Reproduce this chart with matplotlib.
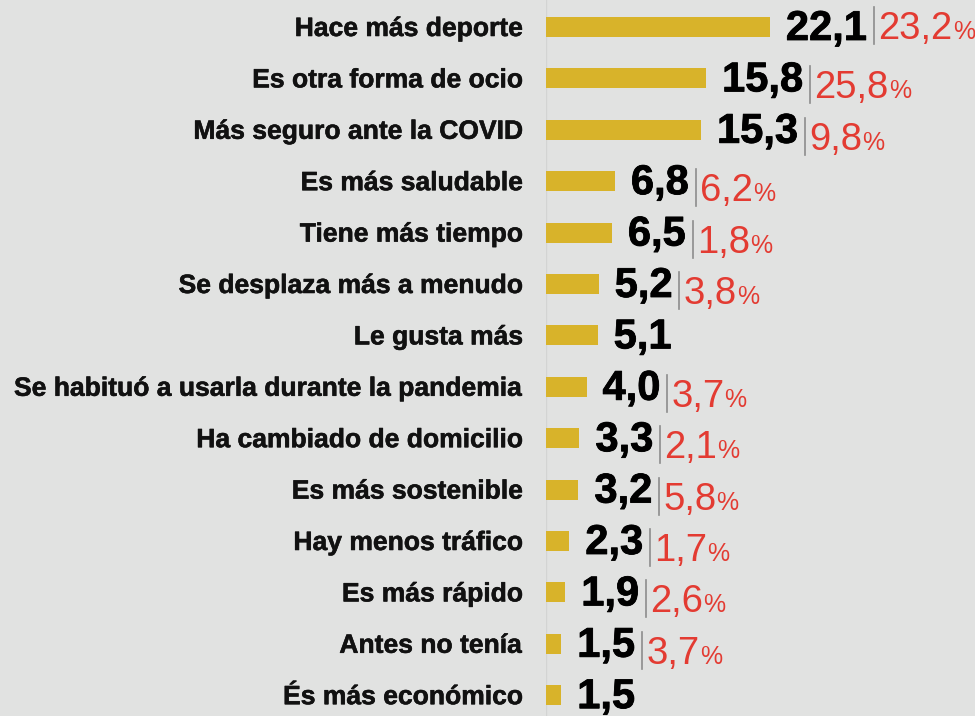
import matplotlib
matplotlib.use("Agg")
import matplotlib.pyplot as plt
from matplotlib.transforms import IdentityTransform
from matplotlib.lines import Line2D
from matplotlib.textpath import TextPath
from matplotlib import font_manager as fm
from matplotlib import patheffects as pe

labels = [
    "Hace más deporte",
    "Es otra forma de ocio",
    "Más seguro ante la COVID",
    "Es más saludable",
    "Tiene más tiempo",
    "Se desplaza más a menudo",
    "Le gusta más",
    "Se habituó a usarla durante la pandemia",
    "Ha cambiado de domicilio",
    "Es más sostenible",
    "Hay menos tráfico",
    "Es más rápido",
    "Antes no tenía",
    "És más económico",
]
values = [22.1, 15.8, 15.3, 6.8, 6.5, 5.2, 5.1, 4.0, 3.3, 3.2, 2.3, 1.9, 1.5, 1.5]
previous = [23.2, 25.8, 9.8, 6.2, 1.8, 3.8, None, 3.7, 2.1, 5.8, 1.7, 2.6, 3.7, None]

BG = "#e1e2e1"
GOLD = "#d8b32a"
RED = "#e33b32"
SEP = "#8c8c8c"


def font_file(name, weight):
    for f in fm.fontManager.ttflist:
        if f.name == name and f.weight == weight and f.style == "normal":
            return f.fname
    return None


bold_file = font_file("Liberation Sans", 700)
reg_file = font_file("Liberation Sans", 400)


def fp(bold, size):
    fn = bold_file if bold else reg_file
    if fn:
        return fm.FontProperties(fname=fn, size=size)
    return fm.FontProperties(family="DejaVu Sans", weight="bold" if bold else "normal", size=size)


def ink_x(s, prop):
    """horizontal ink extent (px, relative to pen origin) of a string"""
    size_px = prop.get_size_in_points() * 100 / 72
    tp = TextPath((0, 0), s, size=size_px, prop=prop)
    v = tp.vertices
    return v[:, 0].min(), v[:, 0].max()


W, H = 975, 716
fig = plt.figure(figsize=(W / 100, H / 100), dpi=100, facecolor=BG)
x0 = 546
ax = fig.add_axes([x0 / W, 0, 1 - x0 / W, 1])
ax.set_facecolor(BG)
px_per_unit = 10.13
row_h = 51.4
first_c = 27
n = len(values)
ax.set_xlim(0, (W - x0) / px_per_unit)
ax.set_ylim(n - 1 + (H - (first_c + row_h * (n - 1))) / row_h, -first_c / row_h)
for s in ax.spines.values():
    s.set_visible(False)
ax.set_xticks([])
ax.set_yticks([])
ax.axvline(0, color="#d3d4d3", lw=1.0, zorder=0)

ys = list(range(n))
ax.barh(ys, values, height=20 / row_h, color=GOLD, zorder=2)

fig.canvas.draw()
ident = IdentityTransform()

# fit label size so the longest label spans ~508 px
probe_prop = fp(True, 17)
a, b = ink_x(labels[7], probe_prop)
label_size = 17 * 508 / (b - a)

lab_prop = fp(True, label_size)
val_prop = fp(True, 30)
red_prop = fp(False, 27.5)
pct_prop = fp(False, 18)
fx_lab = [pe.withStroke(linewidth=0.4, foreground="#111111")]
fx_val = [pe.withStroke(linewidth=0.6, foreground="#000000")]


def fmt(v):
    return f"{v:.1f}".replace(".", ",")


for i, (lab, v, p) in enumerate(zip(labels, values, previous)):
    bx, by = ax.transData.transform((v, i))
    lx, _ = ax.transData.transform((0, i))
    la, lb = ink_x(lab, lab_prop)
    fig.text(lx - 24 - lb, by - 9, lab, transform=ident, ha="left", va="baseline",
             fontproperties=lab_prop, color="#111111", path_effects=fx_lab)
    s = fmt(v)
    va_, vb_ = ink_x(s, val_prop)
    pen = bx + 16 - va_
    fig.text(pen, by - 13, s, transform=ident, ha="left", va="baseline",
             fontproperties=val_prop, color="#000000", path_effects=fx_val)
    if p is None:
        continue
    shift = 8 if i == 0 else 0
    sx = pen + vb_ + 8.5
    fig.add_artist(Line2D([sx, sx], [by + 12 + shift, by - 25 + shift], transform=ident,
                          color=SEP, lw=1.2))
    rs = fmt(p)
    ra, rb = ink_x(rs, red_prop)
    rpen = sx + 4 - ra
    fig.text(rpen, by - 20 + shift, rs, transform=ident, ha="left", va="baseline",
             fontproperties=red_prop, color=RED)
    pa, pb = ink_x("%", pct_prop)
    fig.text(rpen + rb + 2 - pa, by - 20 + shift, "%", transform=ident, ha="left", va="baseline",
             fontproperties=pct_prop, color=RED)

fig.savefig("out.png", dpi=100, facecolor=BG)
